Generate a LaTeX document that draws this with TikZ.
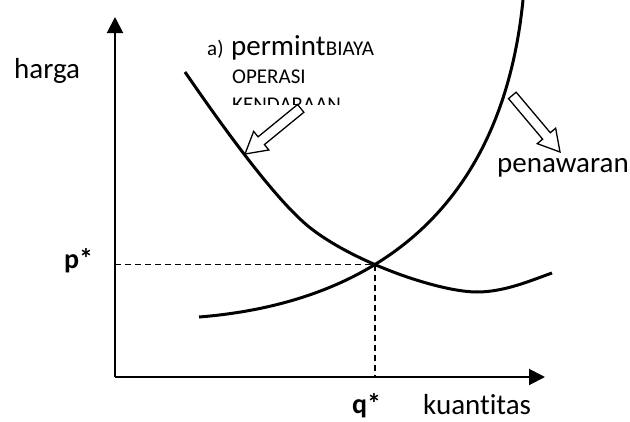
\documentclass[tikz,border=0pt]{standalone}
\usepackage{fontspec}
\setmainfont{Carlito}[Ligatures=NoCommon]
\usetikzlibrary{arrows.meta,intersections}
\tikzset{
  axis/.style={line width=2pt,-{Triangle[length=16pt,width=16pt]}},
  curve/.style={line width=3pt},
  guide/.style={line width=1.4pt,dash pattern=on 6pt off 4pt},
  blockarrow/.style={line width=1.3pt,fill=white,line join=miter},
  big/.style={font=\fontsize{29}{31}\selectfont,inner sep=0pt},
  small/.style={font=\fontsize{21}{24}\selectfont,inner sep=0pt},
  bigbold/.style={font=\fontsize{28}{30}\selectfont\bfseries,inner sep=0pt}
}
\begin{document}
\begin{tikzpicture}[x=1pt,y=-1pt]
\useasboundingbox (0,0) rectangle (630,421);
% axes
\coordinate (O) at (115,377);
\coordinate (ytop) at (115,17);
\coordinate (xend) at (545,377);
\draw[axis] (O) -- (ytop);
\draw[axis] (O) -- (xend);
% demand curve
\draw[curve,name path=demand] (185,72) .. controls (212,111) and (275,202) .. (313,230)
  .. controls (358,264) and (440,292) .. (477,292)
  .. controls (505,292) and (532,280) .. (552,273);
% supply curve
\draw[curve,name path=supply] (199,317) .. controls (350,305) and (500,230) .. (523,0);
\path[name intersections={of=demand and supply,by=E}];
% dashed guides
\coordinate (pstar) at (E -| O);
\coordinate (qstar) at (E |- O);
\draw[guide] (pstar) -- (E);
\draw[guide] (E) -- (qstar);
% block arrows
\begin{scope}[shift={(245,154)},rotate=39.3]
\draw[blockarrow] (0,0) -- (21,12) -- (21,5) -- (72,5) -- (72,-5) -- (21,-5) -- (21,-12) -- cycle;
\end{scope}
\begin{scope}[shift={(560,152)},rotate=130.1]
\draw[blockarrow] (0,0) -- (21,12) -- (21,5) -- (74,5) -- (74,-5) -- (21,-5) -- (21,-12) -- cycle;
\end{scope}
% labels
\node[big,anchor=base west] (harga) at (14,78) {harga};
\node[big,anchor=base west] (kuantitas) at (423,414) {kuantitas};
\node[big,anchor=base west] (penawaran) at (497,172) {penawaran};
\node[bigbold,anchor=base west] (p) at (64,268) {p*};
\node[bigbold,anchor=base west] (q) at (352,413) {q*};
\node[small,anchor=base west] (a) at (207,55) {a)};
\node[big,anchor=base west] (perm) at (231,55) {permint};
\node[small,anchor=base west] (biaya) at (perm.base east) {BIAYA};
\node[small,anchor=base west] (operasi) at (232,83) {OPERASI};
\begin{scope}
\clip (225,60) rectangle (400,104);
\node[small,anchor=base west] (kend) at (232,111) {KENDARAAN};
\end{scope}
\end{tikzpicture}
\end{document}
